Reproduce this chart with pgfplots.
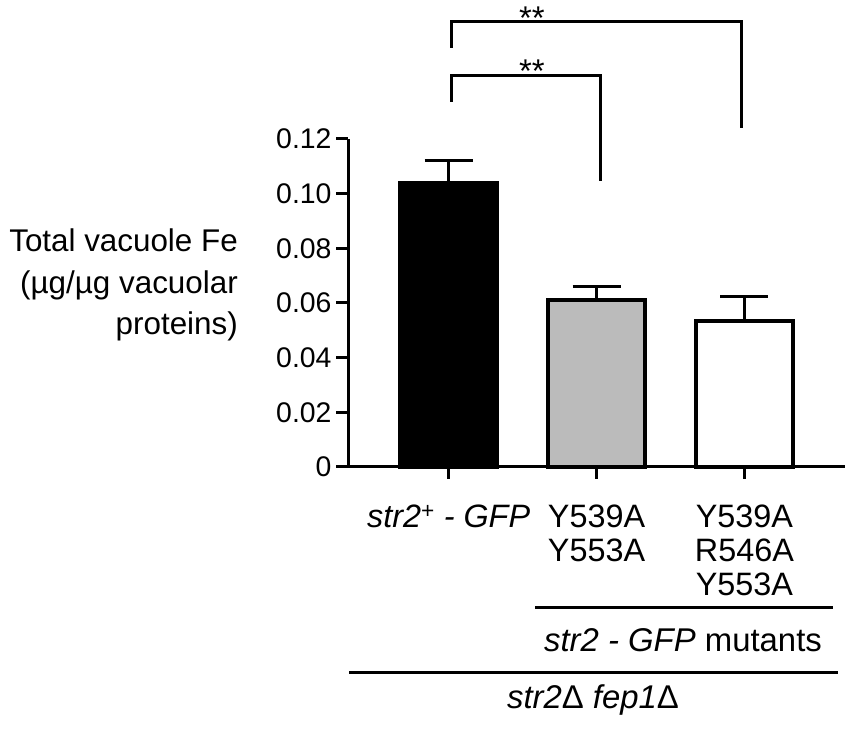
\documentclass[border=0pt]{standalone}
\usepackage{pgfplots}
\pgfplotsset{compat=1.18}
\usepackage{fontspec}
\setmainfont{Liberation Sans}
\definecolor{bargray}{RGB}{187,187,187}
\begin{document}
\begin{tikzpicture}[x=1bp,y=1bp]
\useasboundingbox (0,0) rectangle (851,729);
\begin{axis}[
  at={(348bp,262bp)}, anchor=south west,
  scale only axis, width=497bp, height=328bp,
  xmin=-0.68, xmax=2.68, ymin=0, ymax=0.12,
  axis x line*=bottom, axis y line*=left,
  axis line style={line width=3bp, black},
  ytick={0,0.02,0.04,0.06,0.08,0.10,0.12},
  yticklabels={0,0.02,0.04,0.06,0.08,0.10,0.12},
  xtick={0,1,2},
  xticklabels={{\textit{str2}\textsuperscript{+}\textit{ - GFP}},{Y539A\\Y553A},{Y539A\\R546A\\Y553A}},
  tick style={line width=3bp, black},
  major tick length=12bp, tick align=outside,
  y tick label style={font=\fontsize{28.5}{30}\selectfont, xshift=-1bp},
  x tick label style={font=\fontsize{32.5}{34.5}\selectfont, align=center, anchor=north, yshift=-22bp},
  ybar, bar width=0.66, bar shift=0pt,
  clip=false,
  error bars/y dir=plus, error bars/y explicit,
  error bars/error mark=|,
  error bars/error bar style={line width=3bp, black},
  error bars/error mark options={mark size=24bp, line width=3bp, black},
]
\addplot[fill=black, draw=black, line width=4bp] coordinates {(0,0.104) +- (0,0.008)};
\addplot[fill=bargray, draw=black, line width=4bp] coordinates {(1,0.0611) +- (0,0.005)};
\addplot[fill=white, draw=black, line width=4bp] coordinates {(2,0.0534) +- (0,0.0088)};
\draw[line width=3bp] (axis cs:0.02,0.1533) -- (axis cs:0.02,0.1628) -- (axis cs:1.98,0.1628) -- (axis cs:1.98,0.124);
\draw[line width=3bp] (axis cs:0.02,0.1336) -- (axis cs:0.02,0.1431) -- (axis cs:1.03,0.1431) -- (axis cs:1.03,0.1046);
\node[anchor=base, font=\fontsize{33}{34}\selectfont, inner sep=0pt] at (axis cs:0.563,0.1602) {**};
\node[anchor=base, font=\fontsize{33}{34}\selectfont, inner sep=0pt] at (axis cs:0.563,0.1408) {**};
\end{axis}
\node[anchor=east, align=right, font=\fontsize{31.5}{42}\selectfont, inner sep=0pt] at (238,444) {Total vacuole Fe\\(µg/µg vacuolar\\proteins)};
\draw[line width=3bp] (535,121) -- (833,121);
\draw[line width=3bp] (349,56) -- (838,56);
\node[font=\fontsize{33}{34}\selectfont, inner sep=0pt] at (683,89) {\textit{str2 - GFP} mutants};
\node[font=\fontsize{33}{34}\selectfont, inner sep=0pt] at (593,29) {\textit{str2}Δ \textit{fep1}Δ};
\end{tikzpicture}
\end{document}
